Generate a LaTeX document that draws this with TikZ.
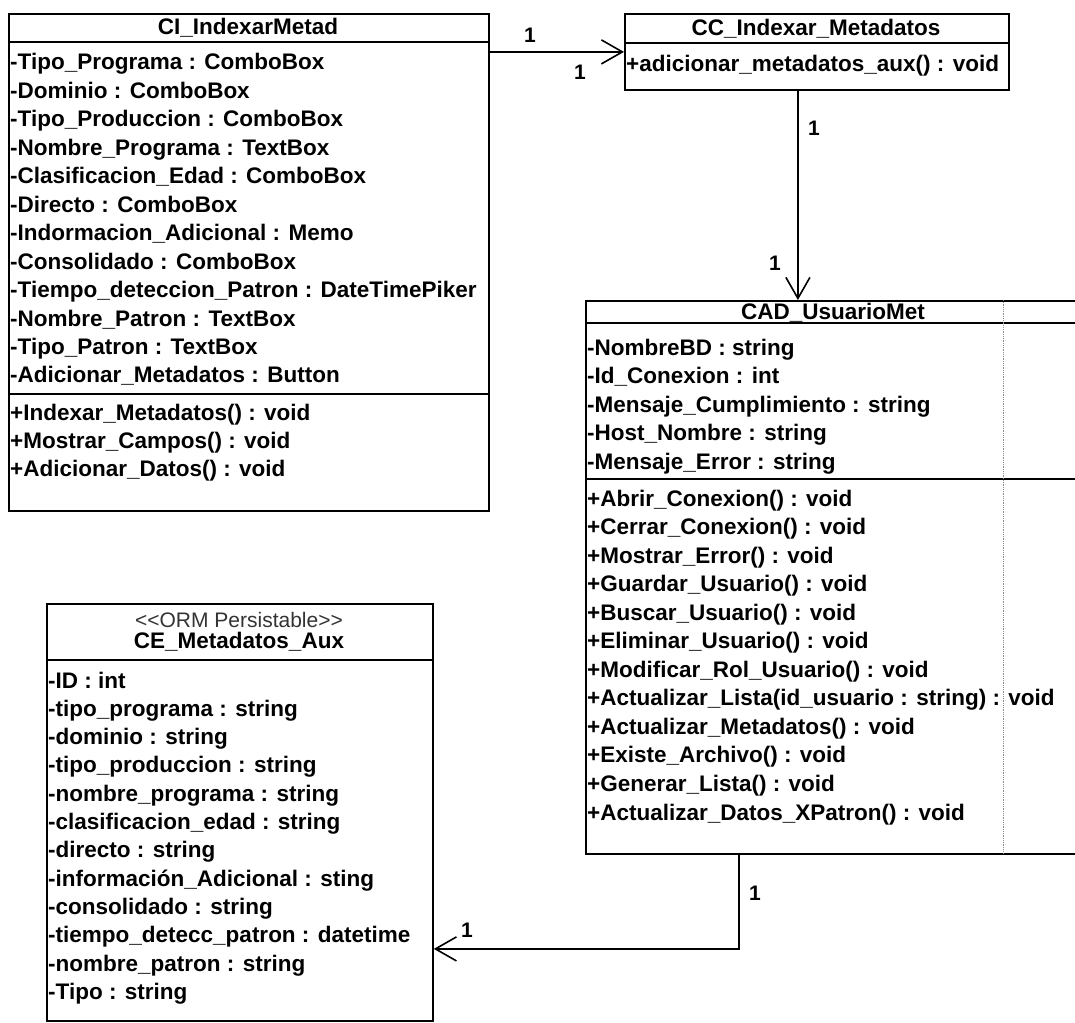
\documentclass[tikz,border=0pt]{standalone}
\usepackage{fontspec}
\setmainfont{Liberation Sans}
\usetikzlibrary{arrows.meta}
\begin{document}
\begin{tikzpicture}[x=1pt,y=-1pt,
  box/.style={draw, line width=1.8pt, inner sep=0pt, anchor=north west},
  rule/.style={line width=1.6pt},
  member/.style={anchor=base west, inner sep=0pt, font=\fontsize{22.5}{27}\selectfont\bfseries},
  title/.style={anchor=base, inner sep=0pt, font=\fontsize{22.5}{27}\selectfont\bfseries},
  stereo/.style={anchor=base, inner sep=0pt, text=black!80, font=\fontsize{21}{25}\selectfont},
  mult/.style={inner sep=0pt, font=\fontsize{21}{25}\selectfont\bfseries},
  assoc/.style={line width=1.6pt, -{Straight Barb[length=21pt,width=24pt,line width=1.6pt]}}]
\useasboundingbox (0,0) rectangle (1075,1022);

% ---------- CI_IndexarMetad ----------
\node[box, minimum width=480pt, minimum height=497pt] (ci) at (8,13) {};
\draw[rule] (8,42) -- (488,42);
\draw[rule] (8,394) -- (488,394);
\node[title] (ci-t) at (248,35) {CI\_IndexarMetad};
\foreach \t [count=\i from 0] in {
  {-Tipo\_Programa : ComboBox},
  {-Dominio : ComboBox},
  {-Tipo\_Produccion : ComboBox},
  {-Nombre\_Programa : TextBox},
  {-Clasificacion\_Edad : ComboBox},
  {-Directo : ComboBox},
  {-Indormacion\_Adicional : Memo},
  {-Consolidado : ComboBox},
  {-Tiempo\_deteccion\_Patron : DateTimePiker},
  {-Nombre\_Patron : TextBox},
  {-Tipo\_Patron : TextBox},
  {-Adicionar\_Metadatos : Button}}
  \node[member] (ci-a\i) at (10,{62+28.45*\i+8}) {\t};
\foreach \t [count=\i from 0] in {
  {+Indexar\_Metadatos() : void},
  {+Mostrar\_Campos() : void},
  {+Adicionar\_Datos() : void}}
  \node[member] (ci-m\i) at (10,{412+28*\i+8}) {\t};

% ---------- CC_Indexar_Metadatos ----------
\node[box, minimum width=384pt, minimum height=76pt] (cc) at (624,13) {};
\draw[rule] (624,43) -- (1008,43);
\node[title] (cc-t) at (816,36) {CC\_Indexar\_Metadatos};
\node[member] (cc-m0) at (626,72) {+adicionar\_metadatos\_aux() : void};

% ---------- CAD_UsuarioMet ----------
\node[box, minimum width=496pt, minimum height=553pt] (cad) at (585,300) {};
\draw[rule] (585,323) -- (1081,323);
\draw[rule] (585,479) -- (1081,479);
\draw[black!45, line width=0.8pt, densely dotted] (1003,300) -- (1003,853);
\node[title] (cad-t) at (833,319) {CAD\_UsuarioMet};
\foreach \t [count=\i from 0] in {
  {-NombreBD : string},
  {-Id\_Conexion : int},
  {-Mensaje\_Cumplimiento : string},
  {-Host\_Nombre : string},
  {-Mensaje\_Error : string}}
  \node[member] (cad-a\i) at (587,{347+28.6*\i+8}) {\t};
\foreach \t [count=\i from 0] in {
  {+Abrir\_Conexion() : void},
  {+Cerrar\_Conexion() : void},
  {+Mostrar\_Error() : void},
  {+Guardar\_Usuario() : void},
  {+Buscar\_Usuario() : void},
  {+Eliminar\_Usuario() : void},
  {+Modificar\_Rol\_Usuario() : void},
  {+Actualizar\_Lista(id\_usuario : string) : void},
  {+Actualizar\_Metadatos() : void},
  {+Existe\_Archivo() : void},
  {+Generar\_Lista() : void},
  {+Actualizar\_Datos\_XPatron() : void}}
  \node[member] (cad-m\i) at (587,{498+28.55*\i+8}) {\t};

% ---------- CE_Metadatos_Aux ----------
\node[box, minimum width=386pt, minimum height=417pt] (ce) at (46,603) {};
\draw[rule] (46,660) -- (432,660);
\node[stereo] (ce-s) at (239,627) {<\kern0pt<ORM Persistable>\kern0pt>};
\node[title] (ce-t) at (239,648) {CE\_Metadatos\_Aux};
\foreach \t [count=\i from 0] in {
  {-ID : int},
  {-tipo\_programa : string},
  {-dominio : string},
  {-tipo\_produccion : string},
  {-nombre\_programa : string},
  {-clasificacion\_edad : string},
  {-directo : string},
  {-información\_Adicional : sting},
  {-consolidado : string},
  {-tiempo\_detecc\_patron : datetime},
  {-nombre\_patron : string},
  {-Tipo : string}}
  \node[member] (ce-a\i) at (48,{680+28.3*\i+8}) {\t};

% ---------- associations ----------
\draw[assoc] (ci.east |- cc.west) -- (cc.west);
\node[mult] (m1) at (530,35) {1};
\node[mult] (m2) at (580,72) {1};

\draw[assoc] ([xshift=-19pt]cc.south) -- ([xshift=-19pt]cc.south |- cad.north);
\node[mult] (m3) at (814,128) {1};
\node[mult] (m4) at (775,263) {1};

\draw[assoc] ([xshift=-95pt]cad.south) |- ([yshift=-136.5pt]ce.east);
\node[mult] (m5) at (755,893) {1};
\node[mult] (m6) at (467,930) {1};
\end{tikzpicture}
\end{document}
